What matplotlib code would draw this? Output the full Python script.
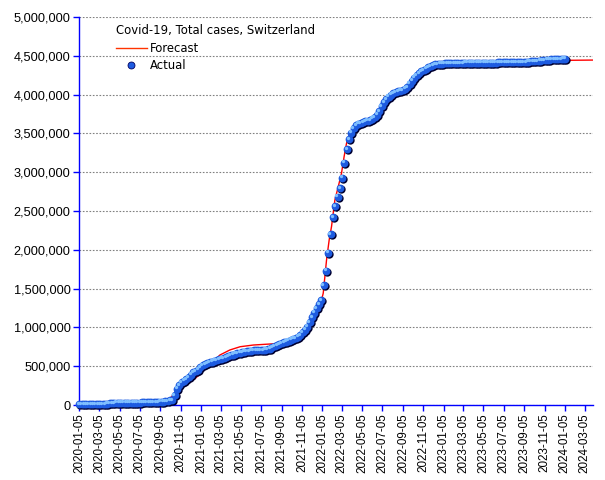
import matplotlib
matplotlib.use("Agg")
import matplotlib.pyplot as plt
import matplotlib.dates as mdates
import matplotlib.transforms as mtransforms
from matplotlib.lines import Line2D
from matplotlib.ticker import FuncFormatter
import pandas as pd

# ── Data (thousands of cases) ────────────────────────────────────────────────
ACTUAL_START = "2020-01-05"      # weekly observations from here
ACTUAL_K = [
    10, 10, 10, 10, 10, 10, 10, 10, 10, 10,
    10, 12, 16, 21, 25, 27, 29, 30, 30, 31,
    31, 31, 31, 31, 31, 32, 32, 33, 34, 35,
    36, 37, 38, 40, 41, 43, 45, 48, 52, 58,
    64, 130, 210, 260, 295, 315, 330, 355, 390, 420,
    440, 455, 490, 510, 525, 538, 550, 560, 570, 580,
    590, 598, 607, 617, 627, 638, 650, 660, 669, 676,
    682, 687, 691, 695, 700, 703, 705, 707, 708, 710,
    712, 716, 728, 745, 762, 775, 788, 798, 808, 818,
    830, 842, 855, 865, 880, 900, 935, 970, 1010, 1070,
    1130, 1190, 1245, 1300, 1353, 1546, 1731, 1963, 2204, 2419,
    2564, 2684, 2793, 2929, 3122, 3295, 3424, 3509, 3566, 3608,
    3625, 3635, 3645, 3655, 3665, 3675, 3690, 3705, 3740, 3790,
    3850, 3900, 3940, 3975, 4000, 4015, 4028, 4040, 4050, 4060,
    4075, 4095, 4140, 4180, 4220, 4250, 4280, 4300, 4318, 4335,
    4350, 4365, 4380, 4388, 4394, 4398, 4400, 4402, 4403, 4404,
    4405, 4406, 4407, 4408, 4408, 4409, 4410, 4410, 4410, 4410,
    4410, 4411, 4411, 4411, 4412, 4412, 4412, 4413, 4413, 4413,
    4414, 4414, 4414, 4415, 4415, 4415, 4416, 4416, 4417, 4417,
    4418, 4418, 4420, 4425, 4428, 4430, 4432, 4434, 4436, 4440,
    4445, 4450, 4452, 4455, 4457, 4459, 4460, 4461, 4462, 4462,
]

FORECAST_DATES = [
    "2020-02-16", "2020-06-16", "2020-09-14", "2020-10-19", "2020-11-13",
    "2020-12-13", "2021-01-03", "2021-01-12", "2021-02-01", "2021-03-03",
    "2021-04-02", "2021-05-03", "2021-06-12", "2021-08-01", "2021-09-10",
    "2021-10-20", "2021-11-19", "2021-12-04", "2021-12-29", "2022-01-08",
    "2022-01-18", "2022-01-26", "2022-02-02", "2022-02-12", "2022-02-22",
    "2022-03-04", "2022-03-12", "2022-03-19", "2022-03-30", "2022-04-19",
    "2022-05-14", "2022-06-18", "2022-07-08", "2022-07-28", "2022-08-22",
    "2022-09-16", "2022-10-06", "2022-10-31", "2022-11-25", "2022-12-25",
    "2023-02-14", "2023-03-26", "2023-05-01", "2023-10-15", "2023-12-01",
    "2024-03-29",
]
FORECAST_K = [
    8, 8, 3, 150, 236,
    322, 400, 440, 515, 644,
    709, 751, 773, 786, 795,
    860, 924, 1030, 1270, 1440,
    1870, 2130, 2300, 2640, 2810,
    2986, 3205, 3370, 3500, 3586,
    3650, 3695, 3800, 3910, 3995,
    4060, 4166, 4253, 4326, 4381,
    4403, 4410, 4425, 4430, 4440,
    4445,
]

TITLE = "Covid-19, Total cases, Switzerland"
X_FIRST_MONTH, X_LAST_MONTH = "2020-01-01", "2024-03-01"   # ticks on the 5th, every 2 months
X_MIN, X_MAX = "2020-01-05", "2024-03-29"

BLUE_AXIS = "#0000ff"
GRID = "#808080"

actual_dates = pd.date_range(ACTUAL_START, periods=len(ACTUAL_K), freq="7D")
actual = [v * 1000 for v in ACTUAL_K]
fc_dates = pd.to_datetime(FORECAST_DATES)
forecast = [v * 1000 for v in FORECAST_K]

fig = plt.figure(figsize=(6.05, 4.8), dpi=100)
ax = fig.add_axes([79 / 605, 1 - 405 / 480, (592.7 - 79) / 605, (405 - 17) / 480])

# forecast line
ax.plot(fc_dates, forecast, color="#ff0000", lw=1.0, zorder=3)

# "3D" ball markers: dark shadow, blue body, light highlight
shadow_tr = mtransforms.offset_copy(ax.transData, fig=fig, x=1.0, y=-1.0, units="dots")
hi_tr = mtransforms.offset_copy(ax.transData, fig=fig, x=-1.3, y=1.3, units="dots")
ax.plot(actual_dates, actual, ls="none", marker="o", ms=6.0, mfc="#000030",
        mec="none", transform=shadow_tr, zorder=4, clip_on=False)
ax.plot(actual_dates, actual, ls="none", marker="o", ms=5.6, mfc="#1d5be0",
        mec="none", zorder=5, clip_on=False)
ax.plot(actual_dates, actual, ls="none", marker="o", ms=2.4, mfc="#7fbfff",
        mec="none", transform=hi_tr, zorder=6, clip_on=False)

# axes
ax.set_ylim(0, 5_000_000)
ax.set_xlim(pd.Timestamp(X_MIN) - pd.Timedelta(days=1), pd.Timestamp(X_MAX))
ax.set_yticks(range(0, 5_000_001, 500_000))
ax.yaxis.set_major_formatter(FuncFormatter(lambda v, p: f"{int(v):,}"))
xt = pd.date_range(X_FIRST_MONTH, X_LAST_MONTH, freq="2MS") + pd.Timedelta(days=4)
ax.set_xticks(xt)
ax.xaxis.set_major_formatter(mdates.DateFormatter("%Y-%m-%d"))
for lbl in ax.get_xticklabels():
    lbl.set_rotation(90)
    lbl.set_fontfamily("Liberation Sans")
    lbl.set_fontsize(8.4)
for lbl in ax.get_yticklabels():
    lbl.set_fontfamily("Liberation Sans")
    lbl.set_fontsize(9.2)

ax.grid(axis="y", color=GRID, ls=(0, (1.5, 1.5)), lw=0.8)
ax.set_axisbelow(True)
for s in ("top", "right"):
    ax.spines[s].set_visible(False)
for s in ("left", "bottom"):
    ax.spines[s].set_color(BLUE_AXIS)
    ax.spines[s].set_linewidth(1.0)
ax.tick_params(axis="both", colors=BLUE_AXIS, labelcolor="black", length=4, width=1, pad=2)

# legend
handles = [
    Line2D([], [], color="#ff3300", lw=1.0),
    Line2D([], [], ls="none", marker="o", ms=5.0, mfc="#1d5be0", mec="#000060", mew=0.6),
]
leg = ax.legend(handles, ["Forecast", "Actual"], title=TITLE, loc="upper left",
                bbox_to_anchor=(0.0725, 0.982), frameon=False, alignment="left",
                prop={"family": "DejaVu Sans", "size": 8.4},
                title_fontproperties={"family": "DejaVu Sans", "size": 8.4},
                handlelength=2.6, handletextpad=0.3, labelspacing=0.4,
                borderaxespad=0, borderpad=0)

fig.savefig("out.png", dpi=100, facecolor="white")
